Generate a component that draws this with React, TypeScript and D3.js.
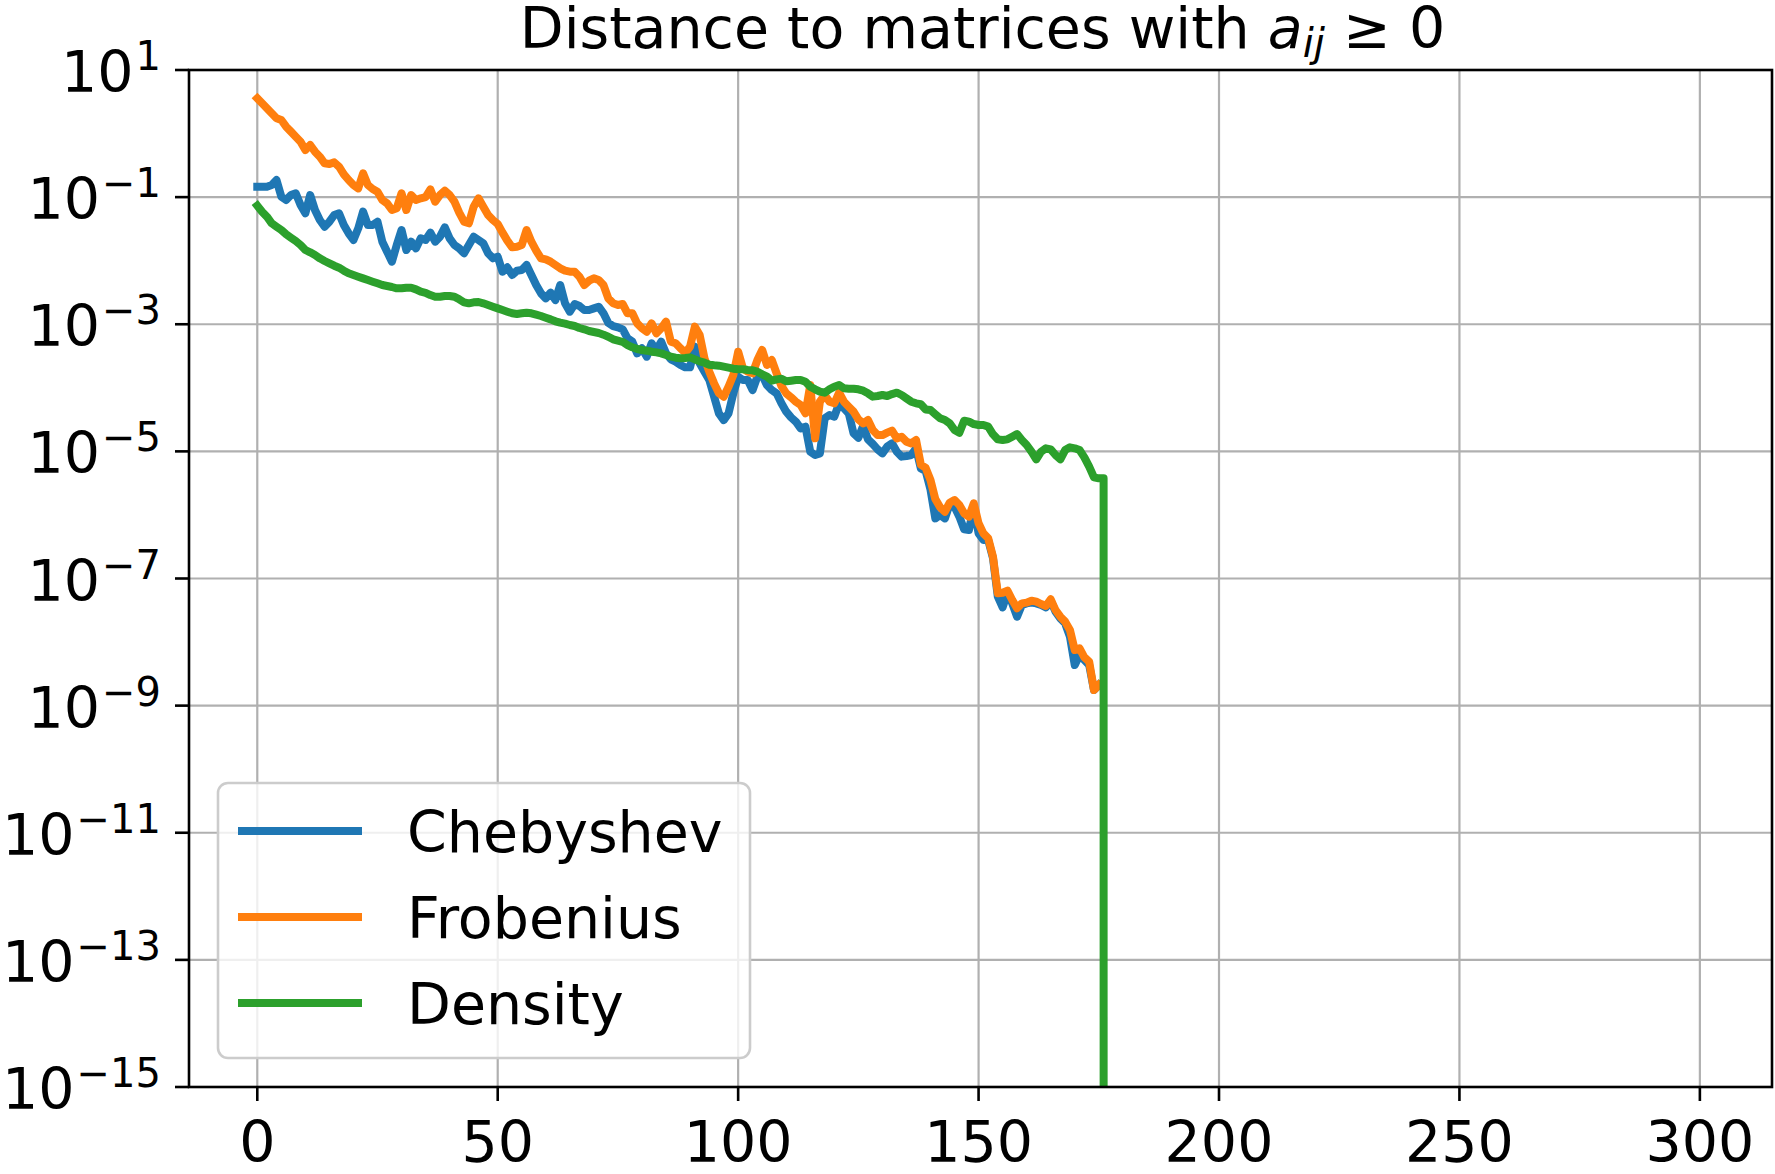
import React from "react";
import * as d3 from "d3";

// ---- Data (log10 of the distance, one value per iteration step 0..175/176) ----
const chebyshevLog10 = [
  -0.836, -0.836, -0.836, -0.809, -0.731, -0.993, -1.045, -0.967, -0.940, -1.124,
  -1.255, -0.967, -1.203, -1.360, -1.465, -1.386, -1.281, -1.255, -1.439, -1.570,
  -1.675, -1.491, -1.229, -1.439, -1.439, -1.386, -1.701, -1.858, -2.016, -1.753,
  -1.517, -1.832, -1.701, -1.806, -1.648, -1.675, -1.559, -1.701, -1.622, -1.475,
  -1.648, -1.753, -1.806, -1.884, -1.753, -1.622, -1.675, -1.727, -1.884, -1.963,
  -1.937, -2.173, -2.105, -2.225, -2.157, -2.147, -2.068, -2.225, -2.383, -2.514,
  -2.593, -2.503, -2.619, -2.383, -2.671, -2.802, -2.682, -2.713, -2.776, -2.776,
  -2.750, -2.724, -2.828, -2.980, -3.028, -3.049, -3.080, -3.222, -3.274, -3.458,
  -3.379, -3.510, -3.300, -3.405, -3.274, -3.458, -3.552, -3.589, -3.641, -3.678,
  -3.678, -3.353, -3.615, -3.746, -3.877, -4.140, -4.402, -4.507, -4.402, -4.087,
  -3.825, -3.877, -3.877, -4.035, -3.825, -3.800, -3.960, -4.035, -4.087, -4.244,
  -4.375, -4.465, -4.533, -4.638, -4.611, -5.005, -5.057, -5.031, -4.480, -4.428,
  -4.454, -4.244, -4.323, -4.402, -4.716, -4.785, -4.601, -4.811, -4.884, -4.968,
  -5.031, -4.926, -4.874, -5.005, -5.083, -5.073, -5.057, -4.952, -5.270, -5.310,
  -5.600, -6.054, -6.000, -6.054, -5.828, -5.870, -6.027, -6.227, -6.237, -5.870,
  -6.290, -6.394, -6.394, -6.683, -7.286, -7.454, -7.223, -7.391, -7.601, -7.417,
  -7.391, -7.380, -7.391, -7.417, -7.454, -7.349, -7.522, -7.627, -7.705, -7.915,
  -8.361, -8.204, -8.282, -8.361, -8.754, -8.676,
];

const frobeniusLog10 = [
  0.554, 0.476, 0.397, 0.318, 0.240, 0.213, 0.108, 0.030, -0.049, -0.128,
  -0.259, -0.180, -0.285, -0.364, -0.468, -0.479, -0.453, -0.521, -0.641, -0.731,
  -0.809, -0.862, -0.626, -0.809, -0.872, -0.914, -1.045, -1.098, -1.203, -1.176,
  -0.940, -1.203, -0.967, -1.045, -1.019, -1.000, -0.880, -1.072, -0.967, -0.898,
  -0.967, -1.072, -1.245, -1.386, -1.412, -1.150, -1.019, -1.150, -1.281, -1.360,
  -1.423, -1.559, -1.685, -1.790, -1.780, -1.753, -1.517, -1.701, -1.843, -1.963,
  -1.979, -2.016, -2.068, -2.120, -2.157, -2.173, -2.173, -2.252, -2.383, -2.315,
  -2.278, -2.304, -2.383, -2.593, -2.671, -2.697, -2.682, -2.828, -2.828, -2.986,
  -3.064, -3.117, -2.986, -3.143, -3.064, -2.960, -3.274, -3.300, -3.379, -3.447,
  -3.353, -3.038, -3.169, -3.536, -3.746, -3.930, -4.087, -4.140, -3.982, -3.799,
  -3.432, -3.694, -3.746, -3.772, -3.563, -3.405, -3.641, -3.563, -3.772, -3.972,
  -4.087, -4.150, -4.218, -4.271, -4.402, -3.956, -4.795, -4.218, -4.113, -4.218,
  -4.244, -4.077, -4.218, -4.297, -4.375, -4.496, -4.559, -4.507, -4.664, -4.743,
  -4.743, -4.706, -4.674, -4.795, -4.769, -4.847, -4.874, -4.821, -5.210, -5.260,
  -5.450, -5.750, -5.880, -5.949, -5.807, -5.765, -5.844, -5.975, -6.027, -5.818,
  -6.132, -6.290, -6.368, -6.657, -7.233, -7.223, -7.192, -7.338, -7.469, -7.391,
  -7.380, -7.349, -7.365, -7.401, -7.433, -7.328, -7.496, -7.601, -7.679, -7.810,
  -8.125, -8.099, -8.240, -8.309, -8.754, -8.676,
];

const densityLog10 = [
  -1.134, -1.229, -1.308, -1.412, -1.465, -1.517, -1.585, -1.638, -1.690, -1.753,
  -1.832, -1.869, -1.911, -1.963, -2.005, -2.042, -2.079, -2.110, -2.157, -2.199,
  -2.225, -2.252, -2.278, -2.304, -2.330, -2.356, -2.383, -2.398, -2.414, -2.435,
  -2.435, -2.425, -2.425, -2.451, -2.488, -2.505, -2.540, -2.566, -2.566, -2.556,
  -2.556, -2.566, -2.608, -2.655, -2.671, -2.655, -2.650, -2.671, -2.697, -2.724,
  -2.750, -2.776, -2.802, -2.828, -2.839, -2.828, -2.818, -2.828, -2.849, -2.870,
  -2.897, -2.923, -2.954, -2.975, -2.991, -3.012, -3.028, -3.059, -3.080, -3.106,
  -3.122, -3.138, -3.164, -3.196, -3.237, -3.258, -3.279, -3.327, -3.363, -3.390,
  -3.405, -3.416, -3.432, -3.442, -3.458, -3.484, -3.510, -3.526, -3.536, -3.531,
  -3.521, -3.552, -3.584, -3.605, -3.636, -3.646, -3.652, -3.667, -3.683, -3.699,
  -3.709, -3.709, -3.720, -3.725, -3.746, -3.788, -3.825, -3.888, -3.867, -3.856,
  -3.898, -3.888, -3.877, -3.877, -3.904, -3.982, -4.024, -4.061, -4.077, -4.024,
  -3.982, -3.956, -4.008, -4.014, -4.014, -4.024, -4.045, -4.087, -4.139, -4.129,
  -4.113, -4.129, -4.098, -4.077, -4.113, -4.166, -4.218, -4.244, -4.258, -4.340,
  -4.350, -4.415, -4.480, -4.507, -4.559, -4.664, -4.706, -4.517, -4.533, -4.570,
  -4.585, -4.585, -4.611, -4.732, -4.811, -4.821, -4.811, -4.769, -4.727, -4.821,
  -4.900, -5.005, -5.125, -5.005, -4.952, -4.968, -5.057, -5.125, -4.979, -4.937,
  -4.952, -4.979, -5.094, -5.241, -5.409, -5.424, -5.424,
];
// the density reaches exactly zero at the step after its last positive value
const densityFinalValue = 0;

const seriesNames = ["Chebyshev", "Frobenius", "Density"];
const seriesColors = ["#1f77b4", "#ff7f0e", "#2ca02c"];
const xTickValues = [0, 50, 100, 150, 200, 250, 300];
const yTickExponents = [1, -1, -3, -5, -7, -9, -11, -13, -15];
const titlePlain = "Distance to matrices with ";

// ---- Layout ----
const W = 1775;
const H = 1174;
const left = 189;
const right = 1772;
const top = 70;
const bottom = 1087;
const FONT = "DejaVu Sans";
const FS = 57;

export default function App() {
  const x = d3.scaleLinear().domain([-14.2, 315]).range([left, right]);
  const y = d3.scaleLog().domain([1e-15, 1e1]).range([bottom, top]);

  const toPoints = (logs: number[]) => logs.map((l, i) => [i, Math.pow(10, l)] as [number, number]);
  const cheb = toPoints(chebyshevLog10);
  const frob = toPoints(frobeniusLog10);
  const dens = toPoints(densityLog10);
  dens.push([densityLog10.length, densityFinalValue]);

  const line = d3
    .line<[number, number]>()
    .x((d) => x(d[0]))
    .y((d) => (d[1] > 0 ? y(d[1]) : bottom + 100000));

  const series = [cheb, frob, dens];

  const supMinus = (e: number) => (e < 0 ? "\u2212" + Math.abs(e) : String(e));

  return (
    <svg
      width={W}
      height={H}
      viewBox={`0 0 ${W} ${H}`}
      style={{ position: "absolute", left: 0, top: 0, background: "#fff" }}
      fontFamily={FONT}
    >
      <defs>
        <clipPath id="plotClip">
          <rect x={left} y={top} width={right - left} height={bottom - top} />
        </clipPath>
      </defs>
      <rect x={0} y={0} width={W} height={H} fill="#fff" />

      {/* grid */}
      <g stroke="#b0b0b0" strokeWidth={2.2}>
        {xTickValues.map((t) => (
          <line key={"gx" + t} x1={x(t)} x2={x(t)} y1={top} y2={bottom} />
        ))}
        {yTickExponents.map((e) => (
          <line key={"gy" + e} x1={left} x2={right} y1={y(Math.pow(10, e))} y2={y(Math.pow(10, e))} />
        ))}
      </g>

      {/* lines */}
      <g clipPath="url(#plotClip)" fill="none" strokeLinejoin="round" strokeLinecap="square">
        {series.map((s, i) => (
          <path key={seriesNames[i]} d={line(s) || ""} stroke={seriesColors[i]} strokeWidth={8} />
        ))}
      </g>

      {/* spines */}
      <rect
        x={left}
        y={top}
        width={right - left}
        height={bottom - top}
        fill="none"
        stroke="#000"
        strokeWidth={2.6}
      />

      {/* x ticks */}
      {xTickValues.map((t) => (
        <g key={"xt" + t}>
          <line x1={x(t)} x2={x(t)} y1={bottom} y2={bottom + 14} stroke="#000" strokeWidth={2.6} />
          <text x={x(t)} y={1162} textAnchor="middle" fontSize={FS} fill="#000">
            {t}
          </text>
        </g>
      ))}

      {/* y ticks */}
      {yTickExponents.map((e) => {
        const yy = y(Math.pow(10, e));
        return (
          <g key={"yt" + e}>
            <line x1={left - 14} x2={left} y1={yy} y2={yy} stroke="#000" strokeWidth={2.6} />
            <text x={161} y={yy + 22} textAnchor="end" fontSize={FS} fill="#000">
              <tspan>10</tspan>
              <tspan dy={-22} dx={2} fontSize={40}>
                {supMinus(e)}
              </tspan>
            </text>
          </g>
        );
      })}

      {/* title */}
      <text x={(left + right) / 2 + 2} y={48} textAnchor="middle" fontSize={FS} fill="#000">
        <tspan>{titlePlain}</tspan>
        <tspan fontStyle="italic">a</tspan>
        <tspan fontStyle="italic" fontSize={40} dy={9}>
          ij
        </tspan>
        <tspan dy={-9}>{" \u2265 0"}</tspan>
      </text>

      {/* legend */}
      <g>
        <rect
          x={218}
          y={783}
          width={532}
          height={275}
          rx={10}
          ry={10}
          fill="#fff"
          fillOpacity={0.8}
          stroke="#cccccc"
          strokeWidth={2.6}
        />
        {seriesNames.map((name, i) => {
          const ly = 831 + i * 86;
          return (
            <g key={"lg" + name}>
              <line x1={238} x2={362} y1={ly} y2={ly} stroke={seriesColors[i]} strokeWidth={8} />
              <text x={407} y={ly + 21} fontSize={FS} fill="#000">
                {name}
              </text>
            </g>
          );
        })}
      </g>
    </svg>
  );
}
